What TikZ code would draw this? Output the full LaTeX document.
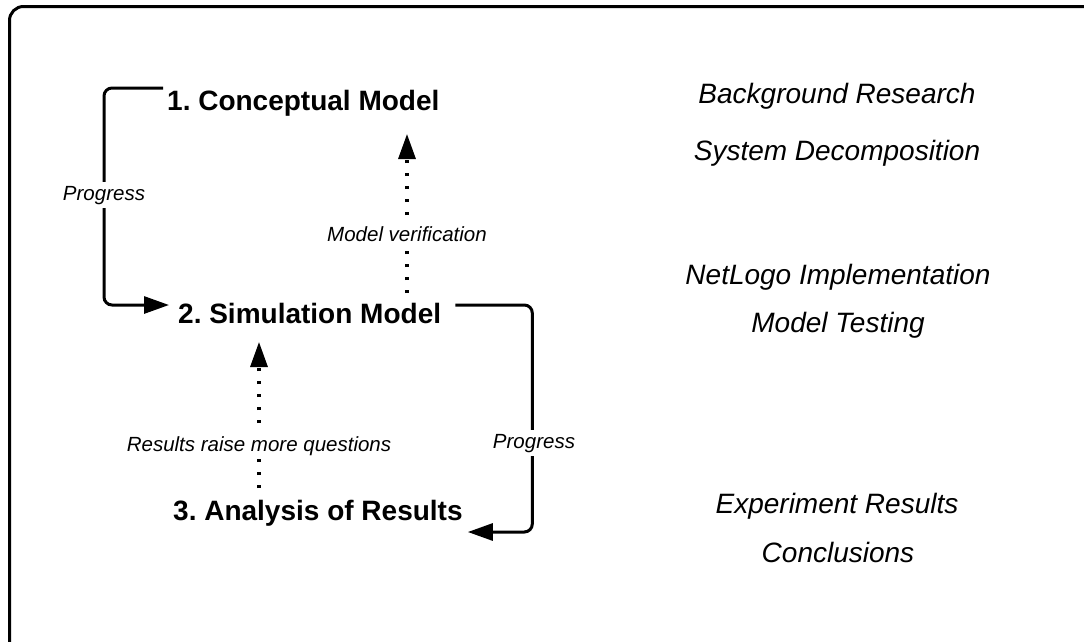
\documentclass[tikz,border=0pt]{standalone}
\usepackage{fontspec}
\setmainfont{Liberation Sans}
\usetikzlibrary{arrows.meta,calc}
\frenchspacing
\begin{document}
\begin{tikzpicture}[x=1pt,y=-1pt,
  heading/.style={font=\fontsize{28}{32}\selectfont\bfseries, inner sep=0pt, anchor=base west},
  note/.style={font=\fontsize{28}{32}\selectfont\itshape, inner sep=0pt, anchor=base},
  tag/.style={font=\fontsize{20.5}{24}\selectfont\itshape, fill=white, inner xsep=2pt, inner ysep=4pt, anchor=base},
  conn/.style={line width=3pt, rounded corners=8pt, -{Triangle[length=25pt,width=17pt]}},
  dotconn/.style={line width=3.2pt, dash pattern=on 3.2pt off 9.8pt, -{Triangle[length=25pt,width=17pt]}},
]
\useasboundingbox (0,0) rectangle (1084,641);
\clip (0,0) rectangle (1084,641);
\fill[white] (0,0) rectangle (1084,641);

% frame, partly outside the page
\draw[line width=3pt, rounded corners=14pt] (9.5,6.5) rectangle (1120,680);

% the three stages
\node[heading] (con) at (167,110) {1. Conceptual Model};
\node[heading] (sim) at (178,323) {2. Simulation Model};
\node[heading] (ana) at (173,520) {3. Analysis of Results};

% activities beside each stage
\node[note] (n1) at (837,103) {Background Research};
\node[note] (n2) at (837,160) {System Decomposition};
\node[note] (n3) at (838,284) {NetLogo Implementation};
\node[note] (n4) at (838,332) {Model Testing};
\node[note] (n5) at (837,513) {Experiment Results};
\node[note] (n6) at (838,562) {Conclusions};

% forward progress
\draw[conn] ([xshift=-4pt,yshift=22pt]con.base west) -- ++(-59,0)
  |- ([xshift=-9pt,yshift=18pt]sim.base west);
\draw[conn] ([xshift=14pt,yshift=18pt]sim.base east) -- ++(77,0)
  |- ([xshift=5pt,yshift=-12pt]ana.base east);

% feedback loops
\coordinate (mv) at (407,0);
\coordinate (rq) at (259,0);
\draw[dotconn] ($(sim.base -| mv)+(0,-30)$) -- ($(con.base -| mv)+(0,24)$);
\draw[dotconn] ($(ana.base -| rq)+(0,-32)$) -- ($(sim.base -| rq)+(0,19)$);

% connector labels
\node[tag] (p1) at (104,200) {Progress};
\node[tag] (p2) at (534,448) {Progress};
\node[tag] (mvl) at (407,241) {Model verification};
\node[tag] (rql) at (259,451) {Results raise more questions};
\end{tikzpicture}
\end{document}
